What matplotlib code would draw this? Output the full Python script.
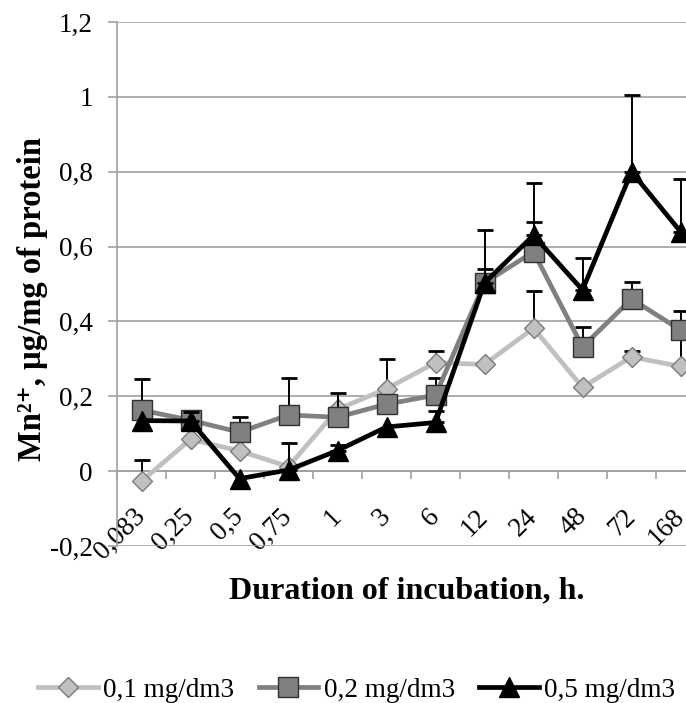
import matplotlib
matplotlib.use("Agg")
import matplotlib.pyplot as plt
import numpy as np

plt.rcParams['font.family'] = ['Liberation Serif', 'DejaVu Serif']

# incubation time categories
durations = ["0,083", "0,25", "0,5", "0,75", "1", "3", "6", "12", "24", "48", "72", "168"]
series_names = ["0,1 mg/dm3", "0,2 mg/dm3", "0,5 mg/dm3"]

# Mn2+ content, ug/mg of protein
mn_01 = [-0.027, 0.085, 0.054, 0.012, 0.165, 0.22, 0.29, 0.285, 0.382, 0.224, 0.305, 0.28]
mn_02 = [0.163, 0.136, 0.104, 0.15, 0.144, 0.179, 0.203, 0.503, 0.586, 0.332, 0.46, 0.377]
mn_05 = [0.135, 0.134, -0.02, 0.003, 0.055, 0.118, 0.13, 0.503, 0.63, 0.484, 0.80, 0.64]

# upper error bars (0 = none visible)
err_01 = [0.057, 0, 0, 0, 0, 0.08, 0.03, 0, 0.098, 0, 0.015, 0.1]
err_02 = [0.083, 0.02, 0.04, 0.10, 0.064, 0, 0.046, 0.037, 0.08, 0.053, 0.045, 0.05]
err_05 = [0, 0.024, 0, 0.072, 0.015, 0, 0.03, 0.14, 0.14, 0.086, 0.205, 0.14]

yticks = [-0.2, 0, 0.2, 0.4, 0.6, 0.8, 1, 1.2]
ytick_labels = ["-0,2", "0", "0,2", "0,4", "0,6", "0,8", "1", "1,2"]

fig = plt.figure(figsize=(6.86, 7.03), dpi=100)
ax = fig.add_axes([117 / 686, 157 / 703, 588 / 686, 524 / 703])

x = np.arange(len(durations))
styles = [
    dict(color="#c0c0c0", marker="D", markersize=10, markerfacecolor="#c0c0c0",
         markeredgecolor="#7a7a7a", markeredgewidth=1.0, linewidth=3.4),
    dict(color="#808080", marker="s", markersize=15, markerfacecolor="#808080",
         markeredgecolor="#303030", markeredgewidth=1.0, linewidth=3.4),
    dict(color="black", marker="^", markersize=15, markerfacecolor="black",
         markeredgecolor="black", linewidth=3.4),
]

for i, (vals, errs, name) in enumerate(zip([mn_01, mn_02, mn_05], [err_01, err_02, err_05], series_names)):
    vals = np.array(vals)
    errs = np.array(errs)
    m = errs > 0
    ax.errorbar(x[m], vals[m], yerr=[np.zeros(m.sum()), errs[m]], fmt="none",
                ecolor="black", elinewidth=1.4, capsize=6, capthick=2.0, zorder=3 + i)
    ax.plot(x, vals, label=name, zorder=3 + i, **styles[i])

ax.set_xlim(-0.5, len(durations) - 0.5)
ax.set_ylim(-0.2, 1.2)
ax.set_yticks(yticks)
ax.set_yticklabels(ytick_labels)
ax.yaxis.grid(True, color="#a0a0a0", linewidth=1.2)
ax.set_axisbelow(True)

for s in ["top", "right"]:
    ax.spines[s].set_visible(False)
ax.spines["left"].set_color("#a0a0a0")
ax.spines["left"].set_linewidth(1.2)
ax.spines["bottom"].set_position(("data", 0))
ax.spines["bottom"].set_color("#a0a0a0")
ax.spines["bottom"].set_linewidth(1.2)

ax.set_xticks(np.arange(len(durations) + 1) - 0.5)
ax.set_xticklabels([])
ax.set_xticks(x, minor=True)
ax.set_xticklabels(durations, minor=True, rotation=45, ha="right", va="center",
                   rotation_mode="anchor")
ax.tick_params(axis="x", which="major", length=6, width=1.2, color="#a0a0a0")
ax.tick_params(axis="x", which="minor", length=0, pad=30, labelsize=19.5)
ax.tick_params(axis="y", length=6.5, width=1.2, color="#a0a0a0", labelsize=19.5, pad=11)

fig.text(407 / 686, 1 - 591 / 703, "Duration of incubation, h.", ha="center", va="center",
         fontsize=23, fontweight="bold")
fig.text(33 / 686, 1 - 299 / 703, "Mn²⁺, µg/mg of protein", ha="center", va="center",
         rotation=90, fontsize=23.5, fontweight="bold")

fig.legend(loc="center", bbox_to_anchor=(0.52, 0.018), ncol=3, frameon=False,
           fontsize=19.5, handlelength=2.2, handletextpad=0.2, columnspacing=0.9)

fig.savefig("out.png", dpi=100)
